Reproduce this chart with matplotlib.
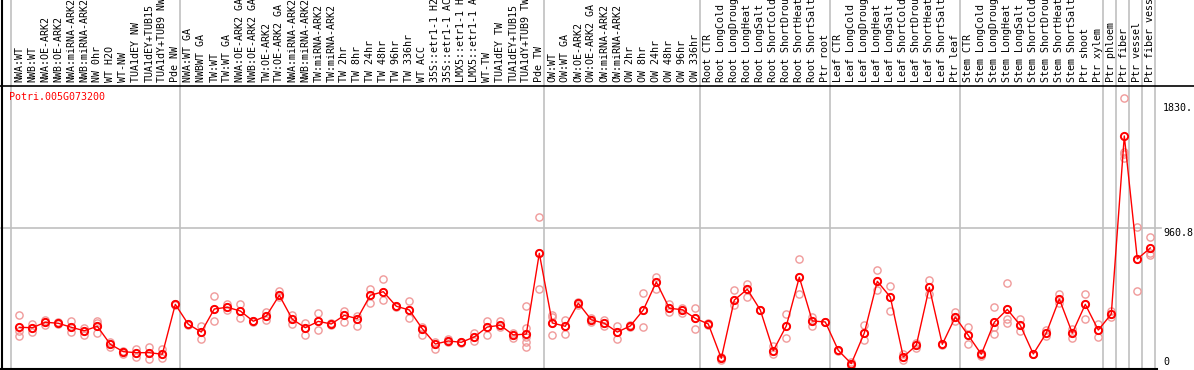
import matplotlib
matplotlib.use("Agg")
import matplotlib.pyplot as plt
from matplotlib.lines import Line2D
import matplotlib.transforms as mtransforms

# ---------------- data ----------------
gene = "Potri.005G073200"

labels = [
    "NWA:WT", "NWB:WT", "NWA:OE-ARK2", "NWB:OE-ARK2", "NWA:miRNA-ARK2", "NWB:miRNA-ARK2",
    "NW 0hr", "WT H2O", "WT-NW", "TUA1dEY NW", "TUA1dEY+TUB15", "TUA1dY+TUB9 NW", "Pde NW",
    "NWA:WT GA", "NWBWT GA", "TW:WT", "TW:WT GA", "NWA:OE-ARK2 GA", "NWB:OE-ARK2 GA",
    "TW:OE-ARK2", "TW:OE-ARK2 GA", "NWA:miRNA-ARK2", "NWB:miRNA-ARK2", "TW:miRNA-ARK2",
    "TW:miRNA-ARK2", "TW 2hr", "TW 8hr", "TW 24hr", "TW 48hr", "TW 96hr", "TW 336hr",
    "WT ACC", "35S::etr1-1 H2", "35S::etr1-1 AC", "LMX5::etr1-1 H", "LMX5::etr1-1 A",
    "WT-TW", "TUA1dEY TW", "TUA1dEY+TUB15", "TUA1dY+TUB9 TW", "Pde TW",
    "OW:WT", "OW:WT GA", "OW:OE-ARK2", "OW:OE-ARK2 GA", "OW:miRNA-ARK2", "OW:miRNA-ARK2",
    "OW 2hr", "OW 8hr", "OW 24hr", "OW 48hr", "OW 96hr", "OW 336hr",
    "Root CTR", "Root LongCold", "Root LongDroug", "Root LongHeat", "Root LongSalt",
    "Root ShortCold", "Root ShortDrou", "Root ShortHeat", "Root ShortSalt", "Ptr root",
    "Leaf CTR", "Leaf LongCold", "Leaf LongDroug", "Leaf LongHeat", "Leaf LongSalt",
    "Leaf ShortCold", "Leaf ShortDrou", "Leaf ShortHeat", "Leaf ShortSalt", "Ptr leaf",
    "Stem CTR", "Stem LongCold", "Stem LongDroug", "Stem LongHeat", "Stem LongSalt",
    "Stem ShortCold", "Stem ShortDrou", "Stem ShortHeat", "Stem ShortSalt", "Ptr shoot",
    "Ptr xylem", "Ptr phloem", "Ptr fiber", "Ptr vessel", "Ptr fiber vess",
]

means = [
    274, 271, 309, 302, 274, 250, 281, 156, 105, 98, 98, 87, 433,
    295, 241, 401, 413, 387, 316, 352, 496, 330, 271, 315, 297, 357, 334, 496, 521,
    420, 394, 264, 158, 179, 170, 207, 276, 288, 221, 227, 787,
    304, 281, 441, 326, 302, 241, 283, 394, 588, 406, 396, 336,
    297, 59, 463, 538, 394, 112, 283, 621, 318, 311,
    114, 22, 234, 593, 484, 68, 149, 551, 156, 345,
    218, 87, 309, 398, 288, 89, 234, 470, 234, 433,
    255, 366, 1601, 748, 824,
]

replicates = [
    [357, 250, 211], [297, 271, 243], [325, 309, 290], [310, 302, 294], [318, 274, 243],
    [267, 250, 221], [320, 306, 281, 232], [174, 156, 137], [112, 105, 92], [126, 98, 70],
    [140, 98, 56], [126, 87, 61], [436, 433, 430],
    [298, 295, 292], [283, 241, 195], [489, 401, 316], [436, 413, 395], [436, 387, 336],
    [319, 316, 313], [378, 352, 325], [524, 496, 486], [359, 330, 297], [302, 271, 223],
    [371, 315, 257], [303, 297, 291], [385, 357, 309], [354, 334, 285], [540, 496, 440],
    [607, 521, 463], [424, 420, 416], [454, 394, 336], [278, 264, 223], [174, 158, 126],
    [193, 179, 170], [174, 170, 165], [237, 207, 177], [320, 276, 218], [318, 288, 276],
    [234, 221, 199], [420, 269, 230, 209, 174, 140], [1037, 787, 538],
    [357, 343, 304, 218], [325, 281, 230], [449, 441, 432],
    [337, 326, 314], [323, 302, 285], [283, 241, 195], [290, 283, 274], [510, 394, 274],
    [625, 588, 542], [436, 406, 381], [406, 396, 376], [406, 336, 260],
    [301, 297, 293], [69, 59, 50], [533, 463, 427], [574, 538, 486], [396, 394, 392],
    [146, 112, 89], [364, 283, 198], [745, 621, 503], [343, 318, 285], [314, 311, 308],
    [116, 114, 112], [36, 22, 8], [290, 234, 186], [669, 593, 531], [558, 484, 387],
    [88, 68, 48], [166, 149, 133], [600, 551, 503], [158, 156, 154], [380, 345, 320],
    [278, 218, 156], [97, 87, 72], [413, 309, 278, 225], [581, 398, 329, 302], [334, 288, 250],
    [91, 89, 87], [254, 234, 214], [507, 470, 445], [264, 234, 197], [507, 433, 332],
    [295, 255, 209], [388, 366, 344], [1862, 1492, 1476, 1446], [970, 748, 526], [898, 787, 775],
]

group_lines = [-0.66, 12.38, 40.38, 52.38, 62.38, 72.38, 83.38, 84.38, 85.38, 86.38, 87.36]
ref_value = 960.8
max_label = "1830."
mid_label = "960.8"

# ---------------- layout ----------------
W, H = 1194, 370
fig = plt.figure(figsize=(W / 100, H / 100), dpi=100)

left_px, right_px = 1.7, 1155.0
top_px, bot_px = 86.0, 368.5
ax = fig.add_axes([left_px / W, 1 - bot_px / H, (right_px - left_px) / W, (bot_px - top_px) / H])

# x: px = 19.3 + 13*i ; y: px = 366.8 - 0.14418*v
ax.set_xlim((left_px - 19.3) / 13, (right_px - 19.3) / 13)
ax.set_ylim((366.8 - bot_px) / 0.14418, (366.8 - top_px) / 0.14418)
ax.axis("off")

grid_col = "#c0c0c0"
ax_h = bot_px - top_px
for gx in group_lines:
    ax.axvline(gx, ymin=0, ymax=bot_px / ax_h + 0.01, color=grid_col, lw=1.2, clip_on=False, zorder=1)

ax_w = right_px - left_px
ax.axhline(ref_value, xmin=-left_px / ax_w, xmax=(1161 - left_px) / ax_w,
           color=grid_col, lw=1.2, clip_on=False, zorder=1)

# replicates
rx, ry = [], []
for i, reps in enumerate(replicates):
    for r in reps:
        rx.append(i)
        ry.append(r)
ax.plot(rx, ry, linestyle="none", marker="o", ms=5.2, mfc="none", mec="#f09a9a", mew=1.0,
        zorder=2, clip_on=False)

# means
xs = list(range(len(means)))
ax.plot(xs, means, color="#ff0000", lw=1.0, zorder=3, clip_on=False)
ax.plot(xs, means, linestyle="none", marker="o", ms=5.2, mfc="none", mec="#ff0000", mew=1.4,
        zorder=4, clip_on=False)

# top labels
mono = "DejaVu Sans Mono"
trans = mtransforms.blended_transform_factory(ax.transData, ax.transAxes)
for i, lab in enumerate(labels):
    ax.text(i, 1 + 4.0 / ax_h, lab, rotation=90, ha="center", va="bottom", transform=trans,
            fontsize=7.2, family=mono, color="black", clip_on=False)

# gene name
fig.text(9 / W, 1 - 97 / H, gene, color="#ff0000", fontsize=7.2, family=mono,
         ha="left", va="center")

# right labels
rtrans = mtransforms.blended_transform_factory(fig.transFigure, ax.transData)
ax.text(1163 / W, 1830, max_label, transform=rtrans, ha="left", va="top", fontsize=7.2, family=mono)
ax.text(1163 / W, ref_value, mid_label, transform=rtrans, ha="left", va="top", fontsize=7.2, family=mono)
ax.text(1163 / W, 0, "0", transform=rtrans, ha="left", va="bottom", fontsize=7.2, family=mono)

# frame lines
fig.add_artist(Line2D([0, 1], [1 - top_px / H, 1 - top_px / H], color="black", lw=1.2))
fig.add_artist(Line2D([left_px / W, left_px / W], [1 - bot_px / H, 1], color="black", lw=1.5))
fig.add_artist(Line2D([0, 1157 / W], [1 - bot_px / H, 1 - bot_px / H], color="black", lw=1.5))

fig.savefig("out.png", dpi=100, facecolor="white")
